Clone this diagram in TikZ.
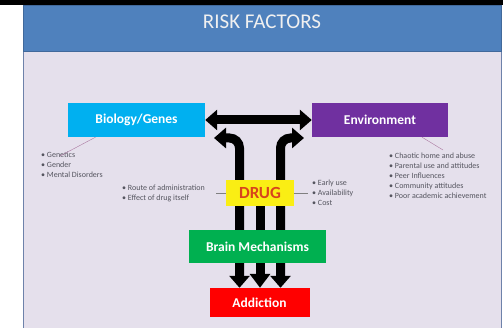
\documentclass[tikz,border=0pt]{standalone}
\usepackage{fontspec}
\setmainfont{Carlito}
\usepackage{xcolor}
\usetikzlibrary{arrows.meta, positioning}

\definecolor{slidebg}{RGB}{229,224,236}
\definecolor{headblue}{RGB}{79,129,189}
\definecolor{biocyan}{RGB}{0,176,240}
\definecolor{envpurple}{RGB}{112,48,160}
\definecolor{braingreen}{RGB}{0,176,80}
\definecolor{drugyellow}{RGB}{250,238,20}
\definecolor{drugred}{RGB}{216,68,28}
\definecolor{listgray}{RGB}{85,85,95}
\definecolor{pinkline}{RGB}{170,120,160}

\begin{document}
\begin{tikzpicture}[
  x=1pt, y=-1pt,
  factor/.style={minimum width=137pt, minimum height=34pt, inner sep=0pt,
                 text=white, font=\fontsize{13.5}{15}\selectfont\bfseries},
  factorlist/.style={anchor=north west, align=left, inner sep=0pt,
                     text=listgray, font=\fontsize{8}{10}\selectfont},
  drugbox/.style={minimum width=68pt, minimum height=26pt, inner sep=0pt, fill=drugyellow,
                  text=drugred, font=\fontsize{17}{19}\selectfont\bfseries},
  bigarrow/.style={line width=9pt,
                   {Triangle[length=12pt,width=20pt]}-{Triangle[length=12pt,width=20pt]}},
  downarrow/.style={line width=9pt, -{Triangle[length=14pt,width=20pt]}},
  pointer/.style={thin, pinkline},
  drugline/.style={thin, gray}
]
  \useasboundingbox (0,0) rectangle (503,328);
  \fill[white] (0,0) rectangle (503,328);
  \fill[black] (0,0) rectangle (503,5);
  \filldraw[fill=slidebg, draw={rgb,255:red,110;green,130;blue,170}] (23,5) rectangle (501,328);
  \filldraw[fill=headblue, draw={rgb,255:red,65;green,105;blue,155}] (23,5) rectangle (501,51);
  \node[text={rgb,255:red,240;green,240;blue,240}, font=\fontsize{21}{23}\selectfont] (title) at (262,22) {RISK FACTORS};

  \coordinate (ltip) at (214,138);
  \coordinate (rtip) at (304,138);

  \node[factor, fill=biocyan] (bio) at (136.5,120) {Biology/Genes};
  \node[factor, fill=envpurple, minimum width=136pt] (env) at (380,120) {Environment};
  \node[drugbox] (drug) at (260,193) {DRUG};
  \node[factor, fill=braingreen, minimum height=33pt] (brain) at (257.5,246.5) {};
  \node[factor, fill=red, minimum width=100pt, minimum height=29pt] (addict) at (259.5,302.5) {};

  \draw[bigarrow] (bio.east) -- (env.west);
  \draw[bigarrow, rounded corners=10pt] (ltip) -| ([xshift=-20pt]addict.north);
  \draw[bigarrow, rounded corners=10pt] (rtip) -| ([xshift=21pt]addict.north);
  \draw[downarrow] (drug.south) -- (drug.south |- addict.north);

  \node[drugbox] at (drug) {DRUG};
  \node[factor, fill=braingreen, minimum height=33pt] at (brain) {Brain Mechanisms};
  \node[factor, fill=red, minimum width=100pt, minimum height=29pt] at (addict) {Addiction};

  \node[factorlist] (biolist) at (41,152)
    {\textbullet\ Genetics\\ \textbullet\ Gender\\ \textbullet\ Mental Disorders};
  \node[factorlist] (druglistl) at (122,185)
    {\textbullet\ Route of administration\\ \textbullet\ Effect of drug itself};
  \node[factorlist] (druglistr) at (312,180)
    {\textbullet\ Early use\\ \textbullet\ Availability\\ \textbullet\ Cost};
  \node[factorlist] (envlist) at (389,153)
    {\textbullet\ Chaotic home and abuse\\ \textbullet\ Parental use and attitudes\\
     \textbullet\ Peer Influences\\ \textbullet\ Community attitudes\\
     \textbullet\ Poor academic achievement};

  \draw[pointer] ([xshift=-41pt]bio.south) -- ([xshift=19pt,yshift=-4pt]biolist.north west);
  \draw[pointer] ([xshift=42pt]env.south) -- ([xshift=54pt,yshift=3pt]envlist.north west);
  \draw[drugline] (drug.west) -- ++(-10,0);
  \draw[drugline] (drug.east) -- ++(14,0);
\end{tikzpicture}
\end{document}
